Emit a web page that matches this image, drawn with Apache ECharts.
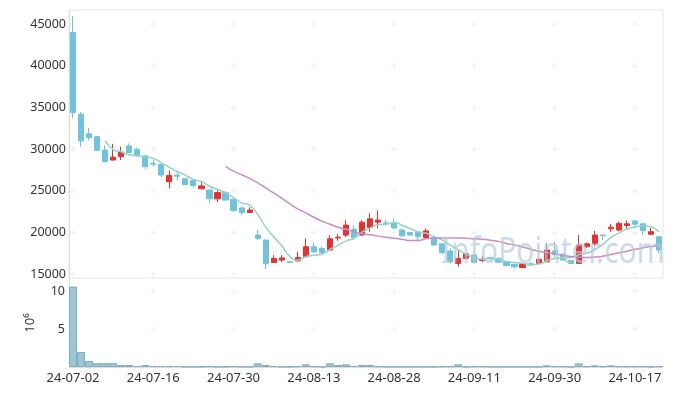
<!DOCTYPE html>
<html><head><meta charset="utf-8">
<script src="https://cdn.jsdelivr.net/npm/echarts@6/dist/echarts.min.js"></script>
<style>html,body{margin:0;padding:0;background:#fff}#c{width:676px;height:396px}</style>
</head><body><div id="c"></div>
<script>
const dates = ['24-07-02','24-07-03','24-07-04','24-07-05','24-07-08','24-07-09','24-07-10','24-07-11','24-07-12','24-07-15','24-07-16','24-07-17','24-07-18','24-07-19','24-07-22','24-07-23','24-07-24','24-07-25','24-07-26','24-07-29','24-07-30','24-07-31','24-08-01','24-08-02','24-08-05','24-08-06','24-08-07','24-08-08','24-08-09','24-08-12','24-08-13','24-08-14','24-08-16','24-08-19','24-08-20','24-08-21','24-08-22','24-08-23','24-08-26','24-08-27','24-08-28','24-08-29','24-08-30','24-09-02','24-09-03','24-09-04','24-09-05','24-09-06','24-09-09','24-09-10','24-09-11','24-09-12','24-09-13','24-09-19','24-09-20','24-09-23','24-09-24','24-09-25','24-09-26','24-09-27','24-09-30','24-10-02','24-10-04','24-10-07','24-10-08','24-10-10','24-10-11','24-10-14','24-10-15','24-10-16','24-10-17','24-10-18','24-10-21','24-10-22'];
const openP  = [44000,34200,31850,31500,29900,28700,29100,30400,30000,29200,28300,28200,26100,26900,26450,26250,25250,25100,24050,24800,24000,22950,22400,19700,19100,16400,16700,16500,16600,17100,18300,18100,17900,19350,19700,20400,19700,20600,21250,21150,21100,20300,20000,20050,19400,19400,18650,17800,16300,16900,17300,16650,17000,16900,16500,16200,15800,16250,16300,16500,17800,17400,16650,16300,18300,18650,19700,20450,20300,20850,21400,21050,19800,19500];
const closeP = [34400,31000,31400,29850,28500,29050,29650,29600,29250,27900,28200,26900,26850,26750,25750,25650,25600,24050,24800,23900,22650,22400,22700,19300,16250,16900,16950,16400,17000,18300,17700,17600,19250,19450,20900,19400,21250,21650,21500,21100,20550,19600,19700,19500,20200,18500,17600,16500,16900,17450,16400,16800,16900,16450,16050,15900,16250,16100,16800,17900,17350,16700,16300,18500,18650,19700,19600,20650,21100,21050,21000,20250,20100,17900];
const lowP   = [33700,30300,31050,29830,28500,28650,28700,29550,29100,27650,27900,26650,25300,26250,25700,25400,25250,23500,23650,23850,22500,22100,22400,19100,15650,16400,16500,16350,16600,17100,17500,17450,17900,19000,19450,19100,19600,20100,20500,20850,20400,19500,19650,18900,19350,18450,17400,16300,15900,16900,16300,16450,16600,16350,15950,15650,15750,16000,16300,16450,17000,16650,16250,16300,18150,18450,19100,20100,20150,20300,20700,19700,19700,17500];
const highP  = [46000,34450,32550,31600,30450,30650,30300,30700,30200,29300,28700,28300,27450,27300,26500,26400,26100,25200,25100,24950,24050,23100,23050,20300,19150,17300,17300,16550,17700,19300,18800,18300,19700,19800,21500,20850,21500,22300,22650,21500,21700,20500,20100,20100,20500,19450,18700,18100,17900,17500,17400,17200,17050,17000,16550,16250,16250,16500,16900,18700,18900,17450,16700,19700,18800,20200,19750,21050,21300,21450,21450,21100,20550,19550];
const volume = [10.6,1.97,0.8,0.5,0.5,0.5,0.26,0.26,0.13,0.26,0.13,0.13,0.13,0.13,0.04,0.04,0.04,0.1,0.04,0.04,0.1,0.04,0.04,0.48,0.26,0.13,0.04,0.04,0.1,0.35,0.1,0.04,0.48,0.26,0.35,0.13,0.26,0.26,0.1,0.04,0.04,0.04,0.04,0.04,0.04,0.04,0.1,0.1,0.35,0.04,0.1,0.1,0.04,0.04,0.04,0.04,0.04,0.04,0.04,0.22,0.1,0.1,0.04,0.48,0.1,0.22,0.1,0.22,0.1,0.1,0.1,0.1,0.04,0.1];
const priceTicks = [15000,20000,25000,30000,35000,40000,45000];
const volTicks = [5,10];
const labelEvery = 10;

function ma(n){
  return closeP.map((v,i)=>{
    if(i<n-1) return '-';
    let s=0; for(let k=i-n+1;k<=i;k++) s+=closeP[k];
    return +(s/n).toFixed(1);
  });
}
const candles = dates.map((d,i)=>[openP[i],closeP[i],lowP[i],highP[i]]);
const labelIdx = dates.map((d,i)=>i).filter(i=>i%labelEvery===0);
const plusTop = [], plusVol = [];
labelIdx.forEach(i=>{ priceTicks.forEach(v=>plusTop.push([i,v])); volTicks.forEach(v=>plusVol.push([i,v])); });
const plusSym = 'path://M4,0h2v4h4v2h-4v4h-2v-4h-4v-2h4z';

const chart = echarts.init(document.getElementById('c'), null, {renderer:'canvas'});
const font = 'Noto Sans';
chart.setOption({
  animation:false,
  textStyle:{fontFamily:font},
  grid:[
    {left:69,right:13,top:10,height:268,show:true,borderColor:'#e6e6e6',borderWidth:1},
    {left:69,right:13,top:279,height:88}
  ],
  xAxis:[
    {type:'category',gridIndex:0,data:dates,boundaryGap:true,axisLabel:{show:false},axisTick:{show:false},axisLine:{show:false},splitLine:{show:false}},
    {type:'category',gridIndex:1,data:dates,boundaryGap:true,axisTick:{show:false},
     axisLine:{lineStyle:{color:'#dddddd'}},
     axisLabel:{interval:labelEvery-1,fontSize:13,color:'#333',margin:5,fontFamily:font},splitLine:{show:false}}
  ],
  yAxis:[
    {type:'value',gridIndex:0,min:14550,max:46700,splitLine:{show:false},axisTick:{show:false},
     axisLine:{show:true,lineStyle:{color:'#dddddd'}},
     axisLabel:{customValues:priceTicks,formatter:v=>String(v),fontSize:12.5,color:'#333',margin:3,fontFamily:font}},
    {type:'value',gridIndex:1,min:0,max:11.6,splitLine:{show:false},axisTick:{show:false},
     axisLine:{show:true,lineStyle:{color:'#dddddd'}},
     name:'10⁶',nameLocation:'middle',nameRotate:90,nameGap:32,nameTextStyle:{fontSize:13,color:'#333',fontFamily:font},
     axisLabel:{customValues:volTicks,formatter:v=>String(v),fontSize:12.5,color:'#333',margin:4,fontFamily:font}}
  ],
  series:[
    {type:'scatter',xAxisIndex:0,yAxisIndex:0,data:plusTop,symbol:plusSym,symbolSize:6,itemStyle:{color:'#ececec'},silent:true,z:1},
    {type:'scatter',xAxisIndex:1,yAxisIndex:1,data:plusVol,symbol:plusSym,symbolSize:6,itemStyle:{color:'#ececec'},silent:true,z:1},
    {type:'candlestick',xAxisIndex:0,yAxisIndex:0,data:candles,barWidth:'70%',
     itemStyle:{color:'#e8312f',color0:'#6ec4dc',borderColor:'#e8312f',borderColor0:'#6ec4dc',borderWidth:1},z:3},
    {type:'line',xAxisIndex:0,yAxisIndex:0,data:ma(5),smooth:true,symbol:'none',lineStyle:{color:'#94d3c5',width:1.5},z:4},
    {type:'line',xAxisIndex:0,yAxisIndex:0,data:ma(20),smooth:true,symbol:'none',lineStyle:{color:'#c98cc6',width:1.5},z:4},
    {type:'bar',xAxisIndex:1,yAxisIndex:1,data:volume,barCategoryGap:'0%',
     itemStyle:{color:'#9dc6d4',borderColor:'#7eaec0',borderWidth:1},z:3}
  ],
  graphic:[
    {type:'text',left:441,top:235,z:100,silent:true,scaleY:1.2,
     style:{text:'InfoPointer.com',font:'30px "Noto Sans"',fill:'rgba(175,200,220,0.65)'}}
  ]
});
</script>
</body></html>
